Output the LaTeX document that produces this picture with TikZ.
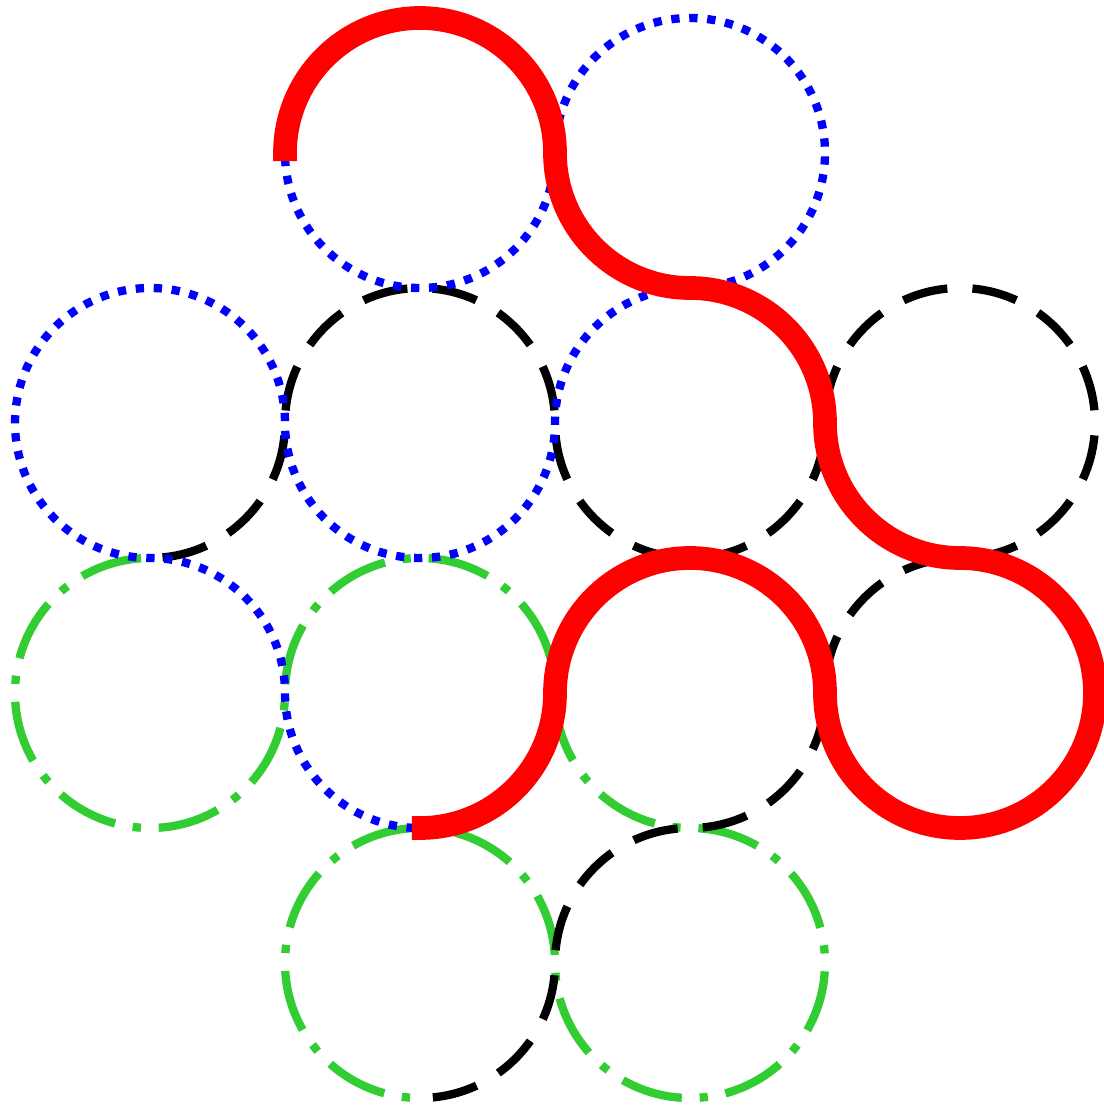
\documentclass[tikz,border=0pt]{standalone}
\definecolor{lgreen}{RGB}{50,205,50}
\begin{document}
\begin{tikzpicture}[x=1cm,y=1cm,
  redpath/.style={draw=red, line width=5pt, line cap=butt},
  bluepath/.style={draw=blue, line width=1.75pt, dash pattern=on 1.75pt off 2.0475pt, dash phase=2.774pt},
  blackpath/.style={draw=black, line width=1.75pt, dash pattern=on 9.6pt off 5.298pt, dash phase=12.249pt},
  greenpath/.style={draw=lgreen, line width=1.75pt, dash pattern=on 13.07pt off 3.76pt on 1.75pt off 3.76pt, dash phase=20.46pt}]
\path[use as bounding box] (0,0) rectangle (8.1778,-8.1926);
\coordinate (A1) at (3.1111,-1.1333);
\coordinate (A2) at (5.1111,-1.1333);
\coordinate (B1) at (1.1111,-3.1333);
\coordinate (B2) at (3.1111,-3.1333);
\coordinate (B3) at (5.1111,-3.1333);
\coordinate (B4) at (7.1111,-3.1333);
\coordinate (C1) at (1.1111,-5.1333);
\coordinate (C2) at (3.1111,-5.1333);
\coordinate (C3) at (5.1111,-5.1333);
\coordinate (C4) at (7.1111,-5.1333);
\coordinate (D1) at (3.1111,-7.1333);
\coordinate (D2) at (5.1111,-7.1333);
% green dash-dot path
\draw[greenpath] (C1) ++(90:1)
  arc[start angle=90,end angle=360,radius=1]
  arc[start angle=180,end angle=0,radius=1]
  arc[start angle=180,end angle=270,radius=1]
  arc[start angle=90,end angle=-180,radius=1]
  arc[start angle=0,end angle=270,radius=1];
% black dashed path
\draw[blackpath] (B1) ++(270:1)
  arc[start angle=270,end angle=360,radius=1]
  arc[start angle=180,end angle=0,radius=1]
  arc[start angle=180,end angle=360,radius=1]
  arc[start angle=180,end angle=-90,radius=1]
  arc[start angle=90,end angle=180,radius=1]
  arc[start angle=0,end angle=-90,radius=1]
  arc[start angle=90,end angle=180,radius=1]
  arc[start angle=0,end angle=-90,radius=1];
% blue dotted path
\draw[bluepath] (A1) ++(180:1)
  arc[start angle=180,end angle=360,radius=1]
  arc[start angle=180,end angle=-90,radius=1]
  arc[start angle=90,end angle=180,radius=1]
  arc[start angle=0,end angle=-180,radius=1]
  arc[start angle=0,end angle=270,radius=1]
  arc[start angle=90,end angle=0,radius=1]
  arc[start angle=180,end angle=270,radius=1];
% red thick path
\draw[redpath] (A1) ++(-1,-0.06) -- ++(0,0.06)
  arc[start angle=180,end angle=0,radius=1]
  arc[start angle=180,end angle=270,radius=1]
  arc[start angle=90,end angle=0,radius=1]
  arc[start angle=180,end angle=270,radius=1]
  arc[start angle=90,end angle=-180,radius=1]
  arc[start angle=0,end angle=180,radius=1]
  arc[start angle=0,end angle=-90,radius=1]
  -- ++(-0.06,0);
\end{tikzpicture}
\end{document}
